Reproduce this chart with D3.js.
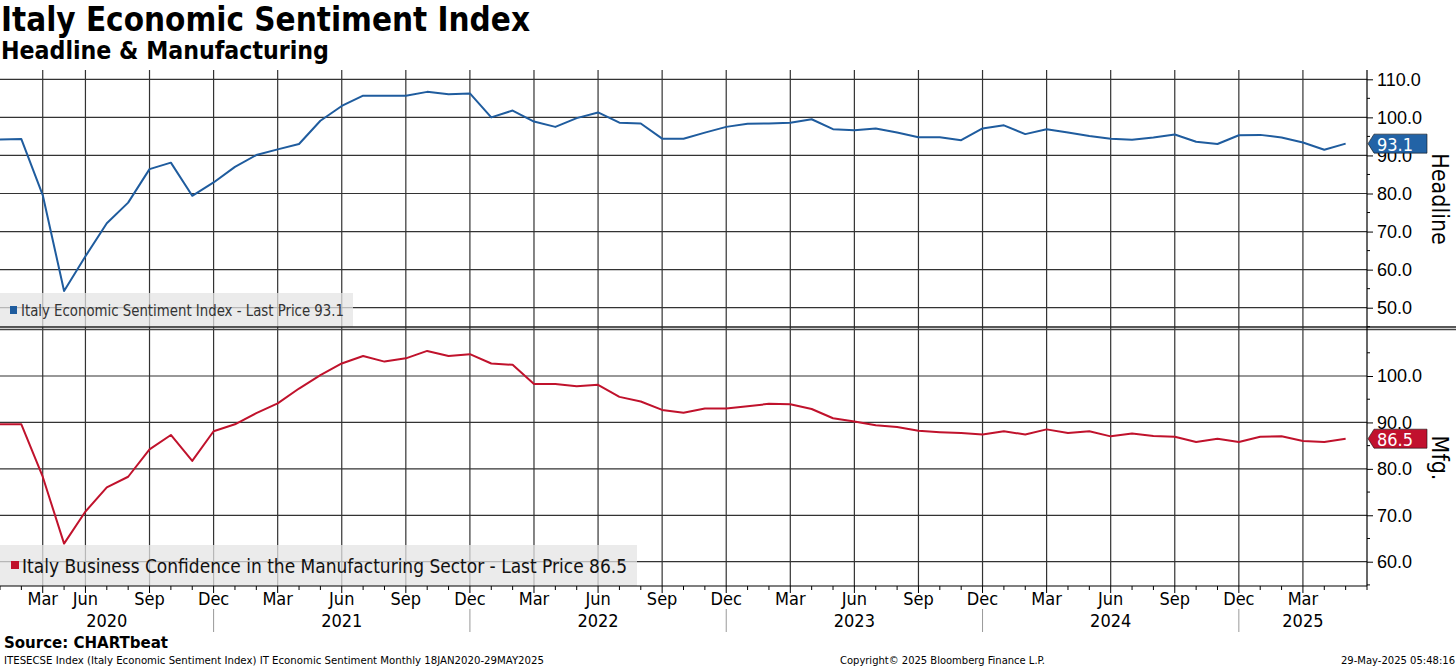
<!DOCTYPE html>
<html>
<head>
<meta charset="utf-8">
<script src="https://cdn.jsdelivr.net/npm/d3@7"></script>
<style>
	body { margin: 0; background: #fff; }
	svg { display: block; font-family: "DejaVu Sans Condensed", "DejaVu Sans", sans-serif; font-stretch: condensed; }
</style>
</head>
<body>
<svg id="chart" width="1456" height="668"></svg>
<script>
//monthly readings, one per month across the chart
var headline = [94.2, 94.3, 79.6, 54.4, 63.5, 72.2, 77.6, 86.4, 88.1, 79.4,
	82.9, 87.0, 90.1, 91.6, 93.0, 99.1, 103.0, 105.7, 105.7, 105.7,
	106.7, 106.1, 106.3, 100.0, 101.8, 98.9, 97.5, 99.8, 101.3, 98.6,
	98.4, 94.4, 94.4, 96.0, 97.5, 98.3, 98.4, 98.6, 99.5, 96.9,
	96.6, 97.1, 96.0, 94.8, 94.8, 94.0, 97.1, 97.9, 95.6, 96.9,
	96.0, 95.1, 94.4, 94.1, 94.7, 95.5, 93.6, 93.0, 95.3, 95.4,
	94.7, 93.4, 91.5, 93.1];
var mfg = [89.6, 89.6, 78.3, 63.9, 70.8, 76.0, 78.3, 84.2, 87.3, 81.7,
	88.1, 89.6, 92.0, 94.1, 97.3, 100.2, 102.7, 104.3, 103.1, 103.8,
	105.4, 104.3, 104.7, 102.7, 102.4, 98.3, 98.3, 97.8, 98.1, 95.5,
	94.5, 92.7, 92.1, 93.0, 93.0, 93.5, 94.0, 93.9, 92.9, 90.9,
	90.2, 89.4, 89.0, 88.2, 87.9, 87.7, 87.4, 88.1, 87.4, 88.5,
	87.7, 88.1, 87.0, 87.6, 87.1, 86.9, 85.8, 86.5, 85.8, 86.9,
	87.0, 86.0, 85.8, 86.5];

//x axis: month slots with labelled gridlines
var xTickIdx = [2, 4, 7, 10, 13, 16, 19, 22, 25, 28, 31, 34, 37, 40, 43, 46, 49, 52, 55, 58, 61];
var xTickLabels = ['Mar', 'Jun', 'Sep', 'Dec', 'Mar', 'Jun', 'Sep', 'Dec', 'Mar', 'Jun', 'Sep',
	'Dec', 'Mar', 'Jun', 'Sep', 'Dec', 'Mar', 'Jun', 'Sep', 'Dec', 'Mar'];
var yearBreaks = [0, 10, 22, 34, 46, 58, 64];
var yearLabels = ['2020', '2021', '2022', '2023', '2024', '2025'];

//y axes
var headlineTicks = [50, 60, 70, 80, 90, 100, 110];
var headlineMinor = [45, 55, 65, 75, 85, 95, 105];
var mfgTicks = [60, 70, 80, 90, 100];
var mfgMinor = [55, 65, 75, 85, 95, 105];

var svg = d3.select('#chart');
var axisX = 1367;
var blue = '#1f5c9e', red = '#c0122c';

var x = d3.scaleLinear().domain([0, 64]).range([0, axisX]);
var yTop = d3.scaleLinear().domain([50, 110]).range([307.7, 79.3]);
var yBot = d3.scaleLinear().domain([60, 100]).range([561.7, 376]);

function fit(sel, w) {
	var len = sel.node().getComputedTextLength();
	if(Math.abs(len - w) > 1) sel.attr('textLength', w).attr('lengthAdjust', 'spacingAndGlyphs');
	return sel;
}

//titles
fit(svg.append('text').attr('x', 1).attr('y', 31)
	.style('font-weight', 'bold').style('font-size', '33px')
	.text('Italy Economic Sentiment Index'), 529);
fit(svg.append('text').attr('x', 1).attr('y', 59)
	.style('font-weight', 'bold').style('font-size', '25px')
	.text('Headline & Manufacturing'), 328);

//gridlines
var grid = svg.append('g').attr('stroke', '#333').attr('stroke-width', 1.2);
grid.selectAll('line.v').data(xTickIdx).enter().append('line')
	.attr('x1', d => x(d)).attr('x2', d => x(d))
	.attr('y1', 70).attr('y2', 586);
grid.selectAll('line.ht').data(headlineTicks).enter().append('line')
	.attr('x1', 0).attr('x2', axisX)
	.attr('y1', d => yTop(d)).attr('y2', d => yTop(d));
grid.selectAll('line.hb').data(mfgTicks).enter().append('line')
	.attr('x1', 0).attr('x2', axisX)
	.attr('y1', d => yBot(d)).attr('y2', d => yBot(d));

//legends (translucent, gridlines show through)
var lgTop = svg.append('g');
lgTop.append('rect').attr('x', 0).attr('y', 293).attr('width', 353).attr('height', 34)
	.attr('fill', '#e4e4e4').attr('fill-opacity', 0.75);
lgTop.append('rect').attr('x', 10).attr('y', 306).attr('width', 7).attr('height', 8).attr('fill', blue);
fit(lgTop.append('text').attr('x', 21).attr('y', 316).attr('fill', '#333')
	.style('font-size', '15px').text('Italy Economic Sentiment Index - Last Price 93.1'), 323);

var lgBot = svg.append('g');
lgBot.append('rect').attr('x', 0).attr('y', 545).attr('width', 637).attr('height', 41)
	.attr('fill', '#e4e4e4').attr('fill-opacity', 0.75);
lgBot.append('rect').attr('x', 11).attr('y', 561).attr('width', 8).attr('height', 8).attr('fill', red);
fit(lgBot.append('text').attr('x', 22).attr('y', 573).attr('fill', '#111')
	.style('font-size', '19.5px').text('Italy Business Confidence in the Manufacturing Sector - Last Price 86.5'), 605);

//series lines
var lineTop = d3.line().x((d, i) => x(i)).y(d => yTop(d));
var lineBot = d3.line().x((d, i) => x(i)).y(d => yBot(d));
svg.append('path').attr('d', lineTop(headline))
	.attr('fill', 'none').attr('stroke', blue).attr('stroke-width', 2).attr('stroke-linejoin', 'round');
svg.append('path').attr('d', lineBot(mfg))
	.attr('fill', 'none').attr('stroke', red).attr('stroke-width', 2).attr('stroke-linejoin', 'round');

//panel separator
svg.append('line').attr('x1', 0).attr('x2', 1456).attr('y1', 327).attr('y2', 327)
	.attr('stroke', '#222').attr('stroke-width', 1.5);
svg.append('line').attr('x1', 0).attr('x2', 1456).attr('y1', 329.5).attr('y2', 329.5)
	.attr('stroke', '#444').attr('stroke-width', 1.5);

//right axes
var axTop = svg.append('g').attr('transform', 'translate(' + axisX + ',0)')
	.call(d3.axisRight(yTop).tickValues(headlineTicks).tickSize(6).tickPadding(4).tickFormat(d3.format('.1f')));
axTop.append('g').selectAll('line').data(headlineMinor).enter().append('line')
	.attr('x2', 3).attr('y1', d => yTop(d)).attr('y2', d => yTop(d)).attr('stroke', '#000');
var axBot = svg.append('g').attr('transform', 'translate(' + axisX + ',0)')
	.call(d3.axisRight(yBot).tickValues(mfgTicks).tickSize(6).tickPadding(4).tickFormat(d3.format('.1f')));
axBot.append('g').selectAll('line').data(mfgMinor).enter().append('line')
	.attr('x2', 3).attr('y1', d => yBot(d)).attr('y2', d => yBot(d)).attr('stroke', '#000');
[axTop, axBot].forEach(function(ax) {
	ax.select('.domain').remove();
	ax.selectAll('text').style('font-size', '18px').attr('fill', '#000').attr('font-family', null);
});
svg.append('line').attr('x1', axisX).attr('x2', axisX).attr('y1', 70).attr('y2', 586)
	.attr('stroke', '#000').attr('stroke-width', 1.2);

//rotated axis titles
svg.append('text').attr('transform', 'translate(1432,199) rotate(90)')
	.attr('text-anchor', 'middle').style('font-size', '23px').text('Headline');
svg.append('text').attr('transform', 'translate(1432,458) rotate(90)')
	.attr('text-anchor', 'middle').style('font-size', '23px').text('Mfg.');

//last value tags
function tag(cy, color, label) {
	var h = 19;
	svg.append('path')
		.attr('d', 'M1368,' + cy + 'L1374,' + (cy - h / 2) + 'L1427,' + (cy - h / 2) +
			'L1427,' + (cy + h / 2) + 'L1374,' + (cy + h / 2) + 'Z')
		.attr('fill', color).attr('stroke', '#111').attr('stroke-width', 0.6);
	svg.append('text').attr('x', 1377).attr('y', cy + 7).attr('fill', '#fff')
		.style('font-size', '18px').text(label);
}
tag(yTop(headline[headline.length - 1]), '#2263a6', d3.format('.1f')(headline[headline.length - 1]));
tag(yBot(mfg[mfg.length - 1]), '#c1112e', d3.format('.1f')(mfg[mfg.length - 1]));

//bottom axis
var axX = svg.append('g').attr('transform', 'translate(0,586)');
axX.append('line').attr('x1', 0).attr('x2', axisX).attr('stroke', '#000').attr('stroke-width', 1.2);
axX.selectAll('line.m').data(d3.range(0, 65)).enter().append('line')
	.attr('x1', d => x(d)).attr('x2', d => x(d)).attr('y1', 0)
	.attr('y2', d => xTickIdx.indexOf(d) >= 0 ? 7 : 4).attr('stroke', '#000');
axX.selectAll('text.mo').data(xTickIdx).enter().append('text')
	.attr('x', d => x(d)).attr('y', 19).attr('text-anchor', 'middle')
	.style('font-size', '18px').text((d, i) => xTickLabels[i]);
axX.selectAll('line.yr').data(yearBreaks.slice(1, -1)).enter().append('line')
	.attr('x1', d => x(d)).attr('x2', d => x(d)).attr('y1', 23).attr('y2', 46)
	.attr('stroke', '#999');
axX.selectAll('text.yr').data(yearLabels).enter().append('text')
	.attr('x', (d, i) => x((yearBreaks[i] + yearBreaks[i + 1]) / 2)).attr('y', 41)
	.attr('text-anchor', 'middle').style('font-size', '18px').text(d => d);

//footer
fit(svg.append('text').attr('x', 4).attr('y', 648).style('font-weight', 'bold').style('font-size', '16px')
	.text('Source: CHARTbeat'), 164);
fit(svg.append('text').attr('x', 4).attr('y', 664).style('font-size', '11px')
	.text('ITESECSE Index (Italy Economic Sentiment Index) IT Economic Sentiment  Monthly 18JAN2020-29MAY2025'), 540);
fit(svg.append('text').attr('x', 840).attr('y', 664).style('font-size', '11px')
	.text('Copyright\u00a9 2025 Bloomberg Finance L.P.'), 205);
fit(svg.append('text').attr('x', 1455).attr('y', 664).attr('text-anchor', 'end').style('font-size', '11px')
	.text('29-May-2025 05:48:16'), 114);
</script>
</body>
</html>
